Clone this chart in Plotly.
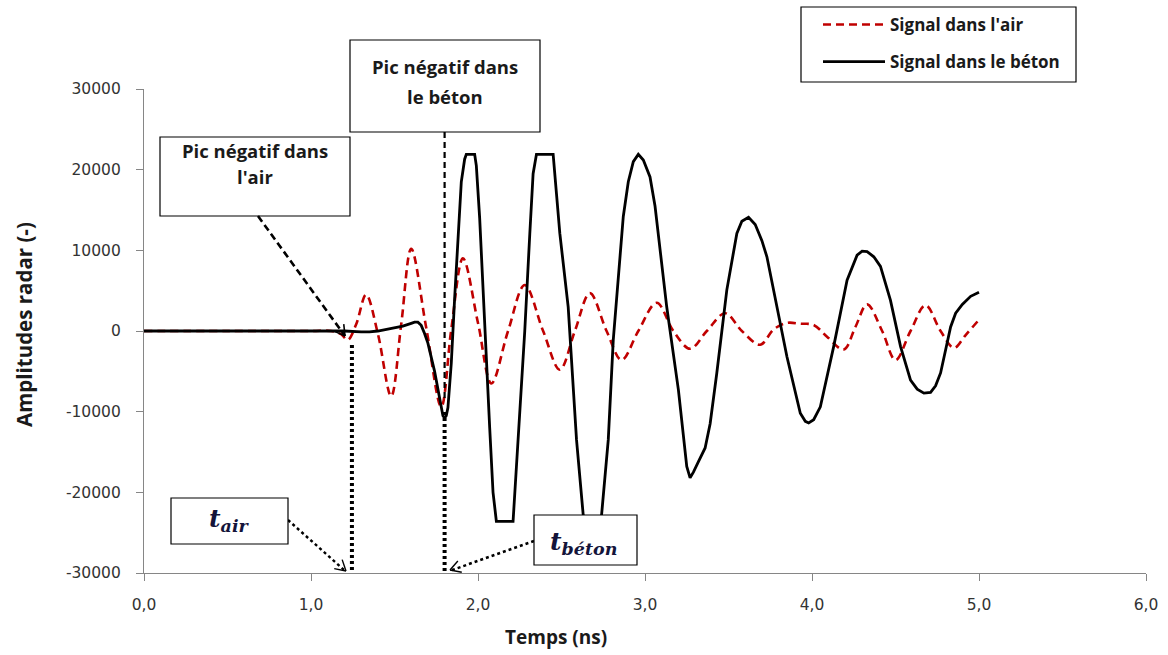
import math
import plotly.graph_objects as go

# ---------------- data ----------------
time_air = [0.0, 0.5, 1.0, 1.12, 1.18, 1.22, 1.27, 1.33, 1.40, 1.48, 1.54, 1.60, 1.69, 1.78,
            1.84, 1.91, 2.00, 2.08, 2.18, 2.28, 2.39, 2.49, 2.58, 2.67, 2.77, 2.86, 2.96,
            3.07, 3.17, 3.27, 3.37, 3.48, 3.58, 3.69, 3.77, 3.85, 3.93, 4.01, 4.09, 4.19,
            4.26, 4.33, 4.42, 4.50, 4.59, 4.68, 4.77, 4.85, 4.92, 5.00]
amp_air = [0, 0, 0, 0, -400, -1100, 800, 4500, -300, -8100, 800, 10200, 400, -9400,
           200, 9000, 1000, -6500, 0, 5700, 0, -4800, 0, 4700, 0, -3600, 0,
           3500, 0, -2200, 0, 2200, 0, -1700, 200, 1000, 900, 750, -700, -2300,
           500, 3300, 0, -3600, 0, 3200, 0, -2100, -500, 1400]

time_beton = [0.0, 0.5, 1.0, 1.2, 1.3, 1.35, 1.4, 1.45, 1.5, 1.55, 1.6, 1.62, 1.64, 1.66, 1.68,
              1.70, 1.74, 1.77, 1.79, 1.80, 1.81, 1.82, 1.84, 1.86, 1.88, 1.90, 1.92, 1.93,
              1.98, 1.99, 2.01, 2.04, 2.07, 2.09, 2.11, 2.21, 2.23, 2.25, 2.28, 2.31, 2.33,
              2.35, 2.45, 2.47, 2.49, 2.54, 2.59, 2.63, 2.65, 2.72, 2.74, 2.78, 2.81, 2.87,
              2.90, 2.93, 2.96, 2.99, 3.03, 3.06, 3.09, 3.13, 3.20, 3.23, 3.25, 3.27, 3.29,
              3.32, 3.36, 3.39, 3.43, 3.49, 3.55, 3.58, 3.62, 3.66, 3.70, 3.73, 3.79, 3.85,
              3.93, 3.96, 3.98, 4.01, 4.05, 4.13, 4.21, 4.27, 4.30, 4.33, 4.37, 4.41, 4.47,
              4.53, 4.59, 4.63, 4.67, 4.71, 4.74, 4.77, 4.83, 4.86, 4.90, 4.95, 5.00]
amp_beton = [0, 0, 0, 0, -100, -100, 0, 200, 400, 600, 950, 1100, 1100, 700, -300,
             -1500, -5000, -8500, -10500, -10800, -10500, -9500, -4000, 4000, 12000, 18500, 21300, 21900,
             21900, 20500, 14000, 0, -12000, -20000, -23600, -23600, -17000, -9000, 0, 12000, 19500,
             21900, 21900, 17000, 12100, 3000, -13500, -22800, -23600, -23600, -22800, -13500, -1100, 14200,
             18500, 21000, 21900, 21200, 19100, 15500, 10400, 3000, -7300, -13500, -16800, -18200, -17500,
             -16200, -14500, -11500, -5200, 5100, 12100, 13600, 14100, 13200, 11200, 9200, 3000, -3200,
             -10200, -11200, -11400, -11000, -9400, -1900, 6300, 9400, 9900, 9850, 9200, 8000, 3800,
             -1900, -6100, -7200, -7700, -7600, -6800, -5200, 500, 2200, 3300, 4300, 4800]

x_ticks = [0, 1, 2, 3, 4, 5, 6]
x_tick_labels = ["0,0", "1,0", "2,0", "3,0", "4,0", "5,0", "6,0"]
y_ticks = [-30000, -20000, -10000, 0, 10000, 20000, 30000]
y_tick_labels = ["-30000", "-20000", "-10000", "0", "10000", "20000", "30000"]
t_air = 1.245     # ns
t_beton = 1.80    # ns

# ---------------- geometry helpers ----------------
FW, FH = 1168, 655
ML, MR, MT, MB = 144, 22, 89, 82
PW, PH = FW - ML - MR, FH - MT - MB


def px(x):
    return (x - ML) / PW


def py(y):
    return (MT + PH - y) / PH


fig = go.Figure()
fig.add_trace(go.Scatter(
    x=time_air, y=amp_air, mode="lines", name="Signal dans l'air", legendgroup="a",
    line=dict(color="#C00000", width=2.6, dash="8px,5px", shape="spline", smoothing=1.0)))
fig.add_trace(go.Scatter(
    x=time_beton, y=amp_beton, mode="lines", name="Signal dans le béton", legendgroup="b",
    line=dict(color="#000000", width=2.8)))

shapes = []
annotations = []
TXT = dict(family="Open Sans", size=18.5, color="#1a1a1a", weight="bold")


def rect(x0, y0, x1, y1, fill="white"):
    shapes.append(dict(type="rect", xref="paper", yref="paper", x0=px(x0), x1=px(x1),
                       y0=py(y1), y1=py(y0), line=dict(color="#000", width=1.2),
                       fillcolor=fill, layer="above"))


def seg(x0, y0, x1, y1, width=2, dash="solid"):
    shapes.append(dict(type="line", xref="paper", yref="paper", x0=px(x0), y0=py(y0),
                       x1=px(x1), y1=py(y1), line=dict(color="#000", width=width, dash=dash),
                       layer="above"))


def vhead(tx, ty, fx, fy, length=12, ang=30, width=1.6):
    dx, dy = tx - fx, ty - fy
    n = math.hypot(dx, dy)
    ux, uy = -dx / n, -dy / n
    for s in (1, -1):
        a = math.radians(s * ang)
        bx = ux * math.cos(a) - uy * math.sin(a)
        by = ux * math.sin(a) + uy * math.cos(a)
        seg(tx, ty, tx + length * bx, ty + length * by, width=width)


def text(x, y, s, font=TXT, **kw):
    annotations.append(dict(xref="paper", yref="paper", x=px(x), y=py(y), text=s,
                            showarrow=False, font=font, xanchor="center", yanchor="middle", **kw))


def vline(xd, y0, y1, width, dash):
    shapes.append(dict(type="line", xref="x", yref="paper", x0=xd, x1=xd, y0=py(y0), y1=py(y1),
                       line=dict(color="#000", width=width, dash=dash), layer="above"))


vline(t_air, 345, 573, 4, "3px,3px")
vline(t_beton, 412, 573, 4, "3px,3px")
vline(t_beton, 132, 402, 2.2, "6px,4px")

# box A: Pic négatif dans l'air
rect(160, 137, 350, 216)
text(255, 150, "Pic négatif dans")
text(255, 177, "l'air")
seg(258, 216, 345, 336, width=2.6, dash="7px,4px")
vhead(345, 336, 258, 216)

# box B: Pic négatif dans le béton
rect(350, 40, 540, 132)
text(445, 66, "Pic négatif dans")
text(445, 96, "le béton")

# box t_air
seg(288, 520, 344, 570, width=2.4, dash="3px,3px")
vhead(346, 571, 288, 520, length=12, width=1.4)
rect(171, 498, 288, 544)
TFONT = dict(family="DejaVu Serif", size=25, color="#14143a")
text(229, 520, "<b><i>t</i></b><sub><b><i>air</i></b></sub>", font=TFONT)

# box t_beton
seg(534, 541, 452, 570, width=2.4, dash="3px,3px")
vhead(450, 570, 534, 541, length=12, width=1.4)
rect(534, 515, 637, 565)
text(583, 543, "<b><i>t</i></b><sub><b><i>béton</i></b></sub>", font=TFONT)

# legend frame
rect(801, 7, 1076, 82, fill="rgba(0,0,0,0)")

# axis titles
AX = dict(family="Open Sans", size=19, color="#1a1a1a", weight="bold")
text(24, 325, "Amplitudes radar (-)", font=dict(AX, size=20.5), textangle=-90)
text(556, 637, "Temps (ns)", font=AX)

axis_common = dict(showgrid=False, zeroline=False, showline=True, linecolor="#868686",
                   linewidth=1.2, ticks="outside", ticklen=7, tickcolor="#868686",
                   tickfont=dict(family="DejaVu Sans", size=15.5, color="#333333"))

fig.update_layout(
    width=FW, height=FH, autosize=False,
    margin=dict(l=ML, r=MR, t=MT, b=MB, pad=0, autoexpand=False),
    paper_bgcolor="white", plot_bgcolor="white",
    xaxis=dict(range=[0, 6], tickvals=x_ticks, ticktext=x_tick_labels, ticklabelstandoff=10,
               automargin=False, **axis_common),
    yaxis=dict(range=[-30000, 30000], tickvals=y_ticks, ticktext=y_tick_labels,
               ticklabelstandoff=12, automargin=False, **axis_common),
    showlegend=True,
    legend=dict(x=px(818), y=py(7), xanchor="left", yanchor="top",
                borderwidth=0, bgcolor="rgba(0,0,0,0)",
                font=dict(family="Open Sans", size=17, color="#1a1a1a", weight="bold"),
                itemwidth=62, traceorder="grouped", tracegroupgap=12),
    shapes=shapes, annotations=annotations,
)

fig.write_html("out.html", config={"displayModeBar": False},
               post_script="document.body.style.margin='0';")
